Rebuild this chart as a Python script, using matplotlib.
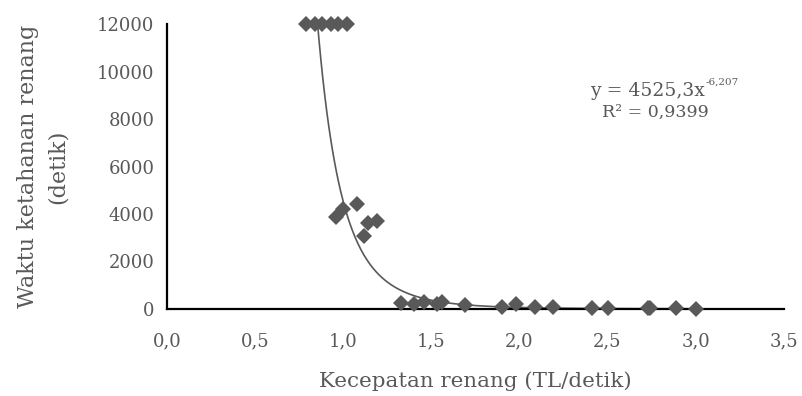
import numpy as np
import matplotlib.pyplot as plt

# -------------------------
# Datos
# -------------------------
kecepatan = [0.79, 0.84, 0.88, 0.93, 0.97, 1.02,
             0.96, 1.00, 1.08, 1.14, 1.19, 1.12,
             1.33, 1.40, 1.46, 1.53, 1.56, 1.69, 1.90, 1.98,
             2.09, 2.19, 2.41, 2.50, 2.73, 2.74, 2.89, 3.00]
waktu = [12000, 12000, 12000, 12000, 12000, 12000,
         3890, 4220, 4440, 3640, 3720, 3090,
         250, 200, 300, 200, 280, 180, 60, 200,
         100, 100, 20, 30, 40, 20, 30, 10]

# trendline potencia: y = a * x^b
coef_a = 4525.3
coef_b = -6.207
eq_text = "y = 4525,3x"
eq_exp = "-6,207"
r2_text = "R² = 0,9399"

x_ticks = [0.0, 0.5, 1.0, 1.5, 2.0, 2.5, 3.0, 3.5]
y_ticks = [0, 2000, 4000, 6000, 8000, 10000, 12000]

grey = "#595959"
plt.rcParams["font.family"] = ["DejaVu Serif"]

fig = plt.figure(figsize=(8.03, 3.96), dpi=100)
ax = fig.add_axes([0.208, 0.22, 0.768, 0.719])

xs = np.linspace(min(kecepatan), max(kecepatan), 400)
ax.plot(xs, coef_a * xs ** coef_b, color=grey, lw=1.2, zorder=2)
ax.plot(kecepatan, waktu, linestyle="none", marker="D", markersize=8.6,
        color=grey, markeredgewidth=0, zorder=3, clip_on=False)

ax.set_xlim(0, 3.5)
ax.set_ylim(0, 12000)
ax.set_xticks(x_ticks)
ax.set_xticklabels([f"{t:.1f}".replace(".", ",") for t in x_ticks])
ax.set_yticks(y_ticks)
ax.set_yticklabels([str(t) for t in y_ticks])
ax.tick_params(length=0, labelsize=13, labelcolor=grey)
ax.tick_params(axis="y", pad=9)
ax.tick_params(axis="x", pad=17)

for s in ["top", "right"]:
    ax.spines[s].set_visible(False)
for s in ["left", "bottom"]:
    ax.spines[s].set_color("black")
    ax.spines[s].set_linewidth(1.6)

ax.set_xlabel("Kecepatan renang (TL/detik)", fontsize=15.4, color=grey, labelpad=15)
ax.set_ylabel("Waktu ketahanan renang\n(detik)", fontsize=16, color=grey,
              labelpad=20, linespacing=1.5)

# ecuación de la línea de tendencia
ax.text(0.872, 0.765, eq_text, transform=ax.transAxes,
        ha="right", va="center", fontsize=13.5, color=grey)
ax.text(0.873, 0.795, eq_exp, transform=ax.transAxes,
        ha="left", va="center", fontsize=7.5, color=grey)
ax.text(0.792, 0.69, r2_text, transform=ax.transAxes,
        ha="center", va="center", fontsize=12.5, color=grey)

fig.savefig("out.png", dpi=100)
